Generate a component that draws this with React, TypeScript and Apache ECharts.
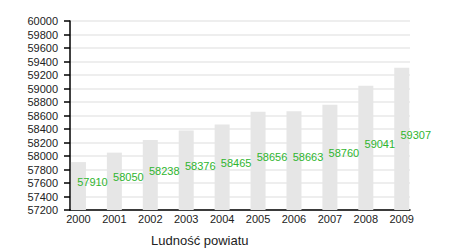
import React, { useEffect, useRef } from "react";
import * as echarts from "echarts";

const years = ["2000", "2001", "2002", "2003", "2004", "2005", "2006", "2007", "2008", "2009"];
const population = [57910, 58050, 58238, 58376, 58465, 58656, 58663, 58760, 59041, 59307];
const yMin = 57200;
const yMax = 60000;
const yStep = 200;
const titleText = "Ludność powiatu";

const FONT = "'Liberation Sans', Arial, sans-serif";

export default function App() {
  const ref = useRef<HTMLDivElement>(null);
  useEffect(() => {
    if (!ref.current) return;
    const chart = echarts.init(ref.current, null, { renderer: "svg" });
    const idx = years.map((_, i) => i);
    chart.setOption({
      animation: false,
      backgroundColor: "#ffffff",
      grid: { left: 70, right: 40, top: 21, bottom: 40, containLabel: false },
      xAxis: {
        type: "value",
        min: -0.235,
        max: 9.23,
        axisLine: { onZero: false, lineStyle: { color: "#000", width: 1.5 } },
        axisTick: { show: false },
        splitLine: { show: false },
        axisLabel: {
          customValues: idx,
          formatter: (v: number) => years[Math.round(v)] ?? "",
          color: "#222",
          fontSize: 11,
          fontFamily: FONT,
          margin: 3,
        },
      },
      yAxis: {
        type: "value",
        min: yMin,
        max: yMax,
        interval: yStep,
        axisLine: { show: true, onZero: false, lineStyle: { color: "#000", width: 1.5 } },
        axisTick: { show: true, length: 6, lineStyle: { color: "#000", width: 1.5 } },
        splitLine: { show: true, lineStyle: { color: "#e8e8e8", width: 1.5 } },
        axisLabel: {
          color: "#222",
          fontSize: 11,
          fontFamily: FONT,
          margin: 12,
          formatter: (v: number) => String(v),
        },
      },
      series: [
        {
          type: "bar",
          data: population.map((v, i) => [i, v]),
          barWidth: 15,
          itemStyle: { color: "#e6e6e6" },
          label: {
            show: true,
            position: "inside",
            offset: [14, -4],
            color: "#2fb52f",
            fontSize: 11,
            fontFamily: FONT,
            formatter: (p: any) => String(p.value[1]),
          },
        },
      ],
      graphic: [
        {
          type: "text",
          left: 151,
          top: 234,
          style: { text: titleText, fill: "#222", font: `13px ${FONT}` },
        },
      ],
    });
    return () => chart.dispose();
  }, []);
  return (
    <div
      ref={ref}
      style={{ position: "absolute", left: 0, top: 0, width: 450, height: 250 }}
    />
  );
}
